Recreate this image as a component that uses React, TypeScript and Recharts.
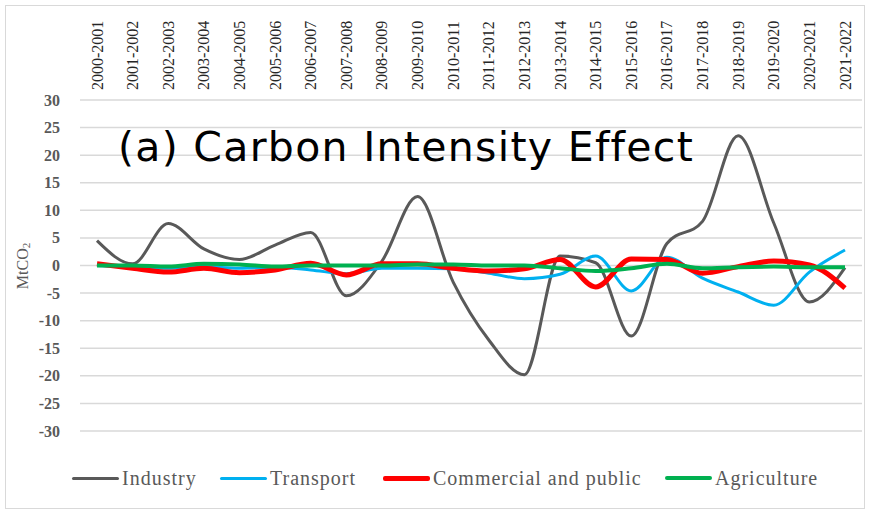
import { LineChart, Line, XAxis, YAxis, CartesianGrid } from "recharts";

const years = [
  "2000-2001", "2001-2002", "2002-2003", "2003-2004", "2004-2005", "2005-2006",
  "2006-2007", "2007-2008", "2008-2009", "2009-2010", "2010-2011", "2011-2012",
  "2012-2013", "2013-2014", "2014-2015", "2015-2016", "2016-2017", "2017-2018",
  "2018-2019", "2019-2020", "2020-2021", "2021-2022",
];

const industry = [4.5, 0.3, 7.6, 3, 1.1, 3.7, 6, -5.5, 0.8, 12.5, -3, -13.5, -19.8, 1.7, 0.5, -12.8, 4, 8, 23.5, 7.7, -6.6, -0.4];
const transport = [0, -0.3, -0.5, -0.2, -0.5, -0.3, -0.8, -1.5, -0.5, -0.5, -0.6, -1.4, -2.4, -1.6, 1.7, -4.6, 1.5, -2.3, -4.8, -7.2, -1.2, 2.8];
const commercial = [0.3, -0.5, -1.2, -0.5, -1.3, -0.8, 0.4, -1.7, 0.3, 0.3, -0.5, -1, -0.6, 1.1, -3.9, 1.2, 1.1, -1.4, -0.2, 0.8, 0.1, -4.1];
const agriculture = [0, 0, -0.2, 0.3, 0.2, -0.2, 0, 0, 0, 0.2, 0.2, 0, 0, -0.5, -1, -0.5, 0.3, -0.5, -0.3, -0.2, -0.3, -0.3];

const yTicks = [30, 25, 20, 15, 10, 5, 0, -5, -10, -15, -20, -25, -30];

const series = [
  { key: "industry", name: "Industry", color: "#595959", width: 3, lx: 72 },
  { key: "transport", name: "Transport", color: "#00b0f0", width: 3, lx: 220 },
  { key: "commercial", name: "Commercial and public", color: "#ff0000", width: 5, lx: 383 },
  { key: "agriculture", name: "Agriculture", color: "#00b050", width: 4, lx: 665 },
];

const data = years.map((year, i) => ({
  year,
  industry: industry[i],
  transport: transport[i],
  commercial: commercial[i],
  agriculture: agriculture[i],
}));

const serif = "Liberation Serif, Tinos, Times New Roman, DejaVu Serif, serif";

const YearTick = ({ x, payload }: { x?: number; payload?: { value: string } }) => (
  <text
    x={x}
    y={90}
    transform={`rotate(-90, ${x}, 90)`}
    textAnchor="start"
    dominantBaseline="central"
    style={{ fontFamily: serif, fontSize: 16 }}
    fill="#262626"
  >
    {payload?.value}
  </text>
);

const ValueTick = ({ y, payload }: { y?: number; payload?: { value: number } }) => (
  <text
    x={60}
    y={y}
    textAnchor="end"
    dominantBaseline="central"
    style={{ fontFamily: serif, fontSize: 16, fontWeight: 700 }}
    fill="#595959"
  >
    {payload?.value}
  </text>
);

export default function App() {
  return (
    <div style={{ position: "absolute", left: 0, top: 0, width: 869, height: 513, background: "#fff" }}>
      <div
        style={{ position: "absolute", left: 5, top: 5, width: 858, height: 502, border: "1px solid #d9d9d9" }}
      />
      <LineChart width={869} height={513} data={data} margin={{ top: 15, right: 7, left: 20, bottom: 82 }}>
        <CartesianGrid horizontal vertical={false} stroke="#d9d9d9" strokeWidth={1.5} />
        <XAxis
          dataKey="year"
          orientation="top"
          height={85}
          axisLine={false}
          tickLine={false}
          interval={0}
          padding={{ left: 17, right: 17 }}
          tick={<YearTick />}
        />
        <YAxis
          domain={[-30, 30]}
          ticks={yTicks}
          width={60}
          axisLine={false}
          tickLine={false}
          tick={<ValueTick />}
        />
        {series.map((s) => (
          <Line
            key={s.key}
            type="monotone"
            dataKey={s.key}
            name={s.name}
            stroke={s.color}
            strokeWidth={s.width}
            dot={false}
            isAnimationActive={false}
          />
        ))}
        <text
          x={118}
          y={161}
          style={{ fontFamily: "DejaVu Sans, Verdana, sans-serif", fontSize: 41, letterSpacing: 1.3 }}
          fill="#000"
        >
          (a) Carbon Intensity Effect
        </text>
        <text
          x={22}
          y={266}
          transform="rotate(-90, 22, 266)"
          textAnchor="middle"
          dominantBaseline="central"
          style={{ fontFamily: serif, fontSize: 16 }}
          fill="#595959"
        >
          MtCO<tspan fontSize={11} dy={4}>2</tspan>
        </text>
      </LineChart>
      {/* legend, laid out like the original */}
      {series.map((s) => (
        <div
          key={s.key}
          style={{
            position: "absolute",
            left: s.lx,
            top: 466,
            height: 24,
            display: "flex",
            alignItems: "center",
            fontFamily: serif,
            fontSize: 20,
            letterSpacing: 1,
            color: "#595959",
            whiteSpace: "nowrap",
          }}
        >
          <span style={{ display: "inline-block", width: 47, height: s.width, background: s.color, borderRadius: 2, marginRight: 3 }} />
          {s.name}
        </div>
      ))}
    </div>
  );
}
